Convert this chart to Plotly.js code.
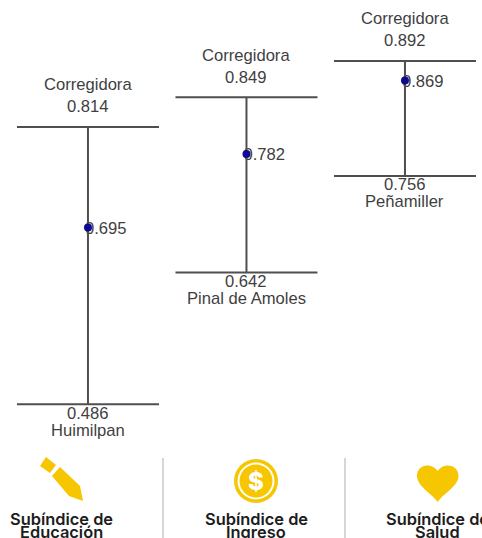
<!DOCTYPE html>
<html>
<head>
<meta charset="utf-8">
<script src="https://cdn.plot.ly/plotly-3.0.1.min.js"></script>
<style>html,body{margin:0;padding:0;background:#fff;overflow:hidden}#c{width:482px;height:538px}</style>
</head>
<body>
<div id="c"></div>
<script>
const categories = ["Subíndice de Educación", "Subíndice de Ingreso", "Subíndice de Salud"];
const meanValues = [0.695, 0.782, 0.869];
const maxValues = [0.814, 0.849, 0.892];
const minValues = [0.486, 0.642, 0.756];
const maxNames = ["Corregidora", "Corregidora", "Corregidora"];
const minNames = ["Huimilpan", "Pinal de Amoles", "Peñamiller"];
const footerLine1 = ["Subíndice de", "Subíndice de", "Subíndice de"];
const footerLine2 = ["Educación", "Ingreso", "Salud"];

const W = 482, H = 538;
const fmt = v => v.toFixed(3);
const LINE = "#4f4f4f", TXT = "#3f3f3f", GOLD = "#f6c600";
const labelFont = {family: "Liberation Sans, Arial, sans-serif", size: 16.6, color: TXT};
const footFont = {family: "Inter, sans-serif", size: 16.4, color: "#1c1c1c", weight: 600};

const px = (x, y) => `${(x / W).toFixed(5)},${(1 - y / H).toFixed(5)}`;
const poly = pts => "M" + pts.map(p => px(p[0], p[1])).join(" L") + " Z";
const iconShape = (path, color) => ({type: "path", xref: "paper", yref: "paper", path, fillcolor: color, line: {width: 0}});
const circle = (cx, cy, r, color) => ({type: "circle", xref: "paper", yref: "paper",
  x0: (cx - r) / W, x1: (cx + r) / W, y0: 1 - (cy + r) / H, y1: 1 - (cy - r) / H, fillcolor: color, line: {width: 0}});
const sep = x => ({type: "line", xref: "paper", yref: "paper", x0: x / W, x1: x / W, y0: 0, y1: 1 - 458 / H,
  line: {color: "#c9c9c9", width: 1.5}});

const heart = "M" + px(437.7, 502) +
  " C" + px(431, 493) + " " + px(417, 486) + " " + px(417, 476) +
  " C" + px(417, 469) + " " + px(422, 465.5) + " " + px(427, 465.5) +
  " C" + px(432, 465.5) + " " + px(436, 468) + " " + px(437.7, 471) +
  " C" + px(439.5, 468) + " " + px(443, 465.5) + " " + px(448, 465.5) +
  " C" + px(453, 465.5) + " " + px(458.5, 469) + " " + px(458.5, 476) +
  " C" + px(458.5, 486) + " " + px(444, 493) + " " + px(437.7, 502) + " Z";

const shapes = [
  sep(163), sep(345),
  iconShape(poly([[40,466],[46,457],[56,465],[50,473]]), GOLD),
  iconShape(poly([[52,476],[60,467],[80,486],[83,501],[69,496]]), GOLD),
  circle(256, 481, 22, GOLD), circle(256, 481, 18.5, "#fff"), circle(256, 481, 16.5, GOLD),
  iconShape(heart, GOLD)
];

const annotations = [];
categories.forEach((c, i) => {
  annotations.push({x: c, y: maxValues[i], xref: "x2", yref: "y2", yshift: 20, text: fmt(maxValues[i]), showarrow: false, font: labelFont, xanchor: "center", yanchor: "middle"});
  annotations.push({x: c, y: maxValues[i], xref: "x2", yref: "y2", yshift: 42, text: maxNames[i], showarrow: false, font: labelFont, xanchor: "center", yanchor: "middle"});
  annotations.push({x: c, y: minValues[i], xref: "x2", yref: "y2", yshift: -9, text: fmt(minValues[i]), showarrow: false, font: labelFont, xanchor: "center", yanchor: "middle"});
  annotations.push({x: c, y: minValues[i], xref: "x2", yref: "y2", yshift: -26, text: minNames[i], showarrow: false, font: labelFont, xanchor: "center", yanchor: "middle"});
});
const footX = [62, 256, 437];
footX.forEach((x, i) => {
  annotations.push({x: x / W, y: 1 - 518.5 / H, xref: "paper", yref: "paper", text: footerLine1[i], showarrow: false, font: footFont, xanchor: "center", yanchor: "middle"});
  annotations.push({x: x / W, y: 1 - 532 / H, xref: "paper", yref: "paper", text: footerLine2[i], showarrow: false, font: footFont, xanchor: "center", yanchor: "middle"});
});
annotations.push({x: 256 / W, y: 1 - 481 / H, xref: "paper", yref: "paper", text: "$", showarrow: false, font: {family: "Inter, sans-serif", size: 24, color: "#fff", weight: 800}, xanchor: "center", yanchor: "middle"});

const traces = [
  {type: "scatter", mode: "text", xaxis: "x", yaxis: "y", x: categories, y: meanValues, text: meanValues.map(fmt),
   textposition: "middle right", textfont: labelFont, showlegend: false},
  {type: "scatter", mode: "markers", xaxis: "x2", yaxis: "y2", x: categories, y: meanValues, marker: {color: "#0a0a96", size: 8}, showlegend: false,
   error_y: {type: "data", symmetric: false, array: maxValues.map((v, i) => v - meanValues[i]), arrayminus: minValues.map((v, i) => meanValues[i] - v), color: LINE, thickness: 2, width: 71}}
];

const catAxis = {type: "category", categoryorder: "array", categoryarray: categories, visible: false, fixedrange: true};
const layout = {
  width: W, height: H, margin: {l: 0, r: 0, t: 0, b: 0},
  paper_bgcolor: "#fff", plot_bgcolor: "#fff", showlegend: false,
  xaxis: {...catAxis, range: [-0.536, 2.505]},
  yaxis: {range: [0.3303, 0.9665], visible: false, fixedrange: true},
  xaxis2: {...catAxis, range: [-0.555, 2.486], overlaying: "x"},
  yaxis2: {range: [0.3279, 0.9641], visible: false, fixedrange: true, overlaying: "y"},
  shapes, annotations
};
Plotly.newPlot("c", traces, layout, {displayModeBar: false, staticPlot: true});
</script>
</body>
</html>
